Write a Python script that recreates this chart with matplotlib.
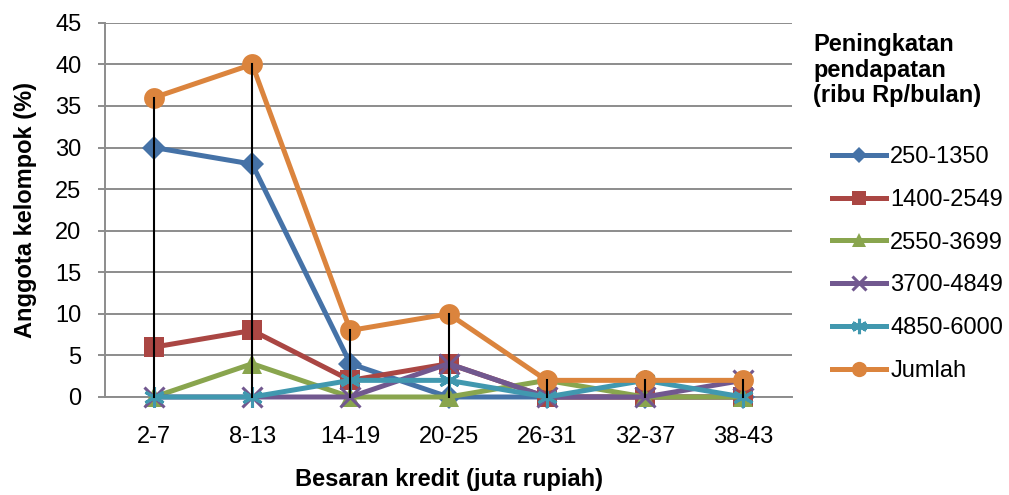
import matplotlib
matplotlib.use("Agg")
import matplotlib.pyplot as plt

plt.rcParams['font.family'] = ['Liberation Sans', 'DejaVu Sans']

categories = ["2-7", "8-13", "14-19", "20-25", "26-31", "32-37", "38-43"]
series_names = ["250-1350", "1400-2549", "2550-3699", "3700-4849", "4850-6000", "Jumlah"]
s_250_1350 = [30, 28, 4, 0, 0, 0, 0]
s_1400_2549 = [6, 8, 2, 4, 0, 0, 0]
s_2550_3699 = [0, 4, 0, 0, 2, 0, 0]
s_3700_4849 = [0, 0, 0, 4, 0, 0, 2]
s_4850_6000 = [0, 0, 2, 2, 0, 2, 0]
s_jumlah = [36, 40, 8, 10, 2, 2, 2]
yticks = [0, 5, 10, 15, 20, 25, 30, 35, 40, 45]
legend_title = "Peningkatan\npendapatan\n(ribu Rp/bulan)"

series = [s_250_1350, s_1400_2549, s_2550_3699, s_3700_4849, s_4850_6000, s_jumlah]
colors = ["#4572A7", "#AA4643", "#89A54E", "#71588F", "#4198AF", "#DB843D"]
markers = ["D", "s", "^", "x", (6, 2, 0), "o"]
msizes = [12.5, 14, 15, 14, 15, 15]
leg_msizes = [8, 10, 10, 10, 11, 11]

FS = 17

fig = plt.figure(figsize=(10.09, 4.95), dpi=100)
ax = fig.add_axes([0.104, 0.198, 0.681, 0.756])

x = list(range(len(categories)))
for vals, c, m, ms, name in zip(series, colors, markers, msizes, series_names):
    mew = 2.2 if m in ("x", (6, 2, 0)) else 0
    ax.plot(x, vals, color=c, lw=3.6, marker=m, markersize=ms,
            markeredgewidth=mew, markeredgecolor=c, label=name, zorder=3,
            solid_joinstyle='round', clip_on=False)

# drop lines
tops = [max(col) for col in zip(*series)]
for xi, t in zip(x, tops):
    ax.plot([xi, xi], [0, t], color="black", lw=1.5, zorder=4, clip_on=False)

ax.set_xlim(-0.5, len(categories) - 0.5)
ax.set_ylim(0, 45)
ax.set_yticks(yticks)
ax.set_xticks(x)
ax.set_xticklabels(categories)
ax.grid(axis='y', color="#8C8C8C", lw=1.4)
ax.set_axisbelow(True)
for s in ["top", "right"]:
    ax.spines[s].set_visible(False)
for s in ["left", "bottom"]:
    ax.spines[s].set_color("#8C8C8C")
    ax.spines[s].set_linewidth(1.4)
ax.tick_params(axis='y', length=5, color="#8C8C8C", width=1.4, labelsize=FS, pad=12)
ax.tick_params(axis='x', length=0, labelsize=FS, pad=21)

ax.set_ylabel("Anggota kelompok (%)", fontsize=FS, fontweight='bold', labelpad=13)
ax.set_xlabel("Besaran kredit (juta rupiah)", fontsize=FS, fontweight='bold', labelpad=14)

fig.text(813 / 1009, 1 - 33 / 495, legend_title, fontsize=FS, fontweight='bold',
         ha='left', va='top', linespacing=1.15)

leg = fig.legend(loc='upper left', bbox_to_anchor=(832 / 1009, 1 - 146 / 495),
                 bbox_transform=fig.transFigure, frameon=False,
                 fontsize=FS, handlelength=2.3, handletextpad=0.17,
                 labelspacing=0.88, borderpad=0, borderaxespad=0)
for h, ms in zip(leg.legend_handles, leg_msizes):
    h.set_markersize(ms)

fig.savefig("out.png", dpi=100)
